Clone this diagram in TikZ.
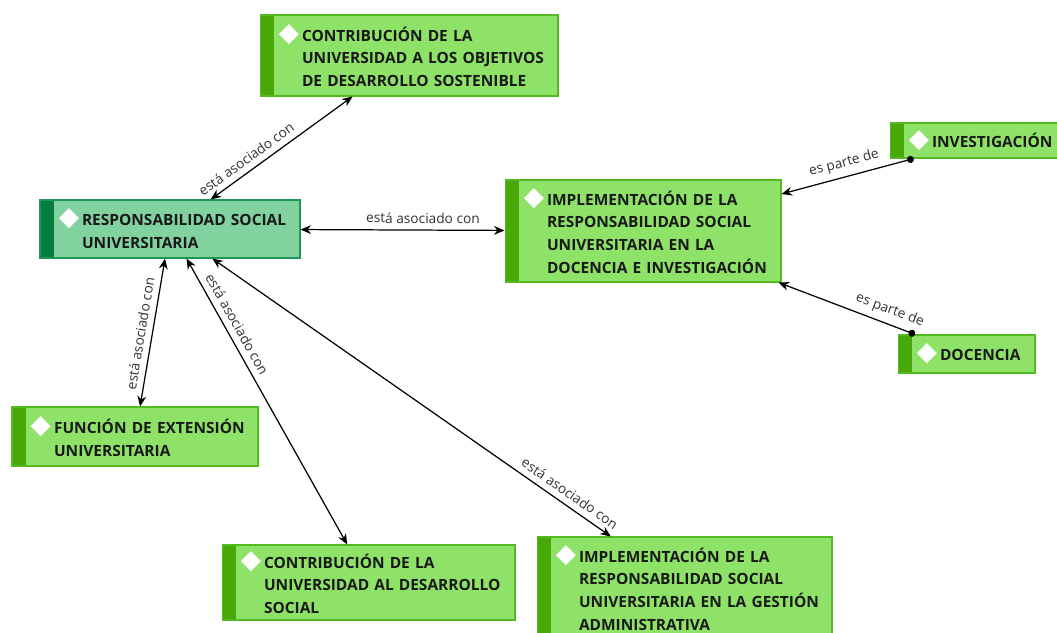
\documentclass[tikz,border=0pt]{standalone}
\usepackage{fontspec}
\setmainfont{Open Sans}
\newfontfamily\symfont{DejaVu Sans}
\usetikzlibrary{arrows.meta}
\definecolor{boxFill}{RGB}{142,226,104}
\definecolor{boxLine}{RGB}{84,186,34}
\definecolor{boxBar}{RGB}{72,168,8}
\definecolor{coreFill}{RGB}{130,210,160}
\definecolor{coreLine}{RGB}{30,150,90}
\definecolor{coreBar}{RGB}{8,125,64}
\definecolor{mainBlack}{gray}{0.1}
\definecolor{subGray}{gray}{0.2}
\newcommand{\dmd}{\llap{{\symfont\fontsize{15}{15}\selectfont\textcolor{white}{◆}}\hspace{0.06cm}}}

\begin{document}
\begin{tikzpicture}[x=0.02cm, y=-0.02cm,
    concept/.style={draw=boxLine, fill=boxFill, line width=0.6pt, text=mainBlack, align=left,
        font=\fontsize{8.8}{13}\selectfont\bfseries, inner xsep=0.04cm, inner ysep=0.1cm,
        execute at begin node={\leftskip=0.8cm\dmd},
        path picture={\fill[#1] (path picture bounding box.north west) rectangle ([xshift=0.28cm]path picture bounding box.south west);}},
    concept/.default=boxBar,
    core/.style={concept=coreBar, draw=coreLine, fill=coreFill},
    rel/.style={font=\fontsize{7.8}{9}\selectfont, text=subGray, sloped, above, inner sep=3.5pt},
    assoc/.style={draw=black, line width=0.7pt, {Stealth[length=6pt,width=5pt]}-{Stealth[length=6pt,width=5pt]}},
    part/.style={draw=black, line width=0.7pt, {Circle[length=4pt]}-{Stealth[length=6pt,width=5pt]}}]
    \useasboundingbox (0,0) rectangle (1057,632);

    \node[core, text width=5.12cm, minimum height=1.16cm] (rsu) at (170,229) {RESPONSABILIDAD SOCIAL\\UNIVERSITARIA};
    \node[concept, text width=5.88cm, minimum height=1.62cm] (ods) at (409,55.5) {CONTRIBUCIÓN DE LA\\UNIVERSIDAD A LOS OBJETIVOS\\DE DESARROLLO SOSTENIBLE};
    \node[concept, text width=5.44cm, minimum height=2.04cm] (impdi) at (643,231) {IMPLEMENTACIÓN DE LA\\RESPONSABILIDAD SOCIAL\\UNIVERSITARIA EN LA\\DOCENCIA E INVESTIGACIÓN};
    \node[concept, text width=3.56cm, minimum height=0.70cm] (inv) at (981,140.5) {INVESTIGACIÓN};
    \node[concept, text width=2.66cm, minimum height=0.76cm] (doc) at (966.5,354) {DOCENCIA};
    \node[concept, text width=4.84cm, minimum height=1.18cm] (ext) at (135,436.5) {FUNCIÓN DE EXTENSIÓN\\UNIVERSITARIA};
    \node[concept, text width=5.78cm, minimum height=1.50cm] (soc) at (368.5,582.5) {CONTRIBUCIÓN DE LA\\UNIVERSIDAD AL DESARROLLO\\SOCIAL};
    \node[concept, text width=5.82cm, minimum height=2.04cm] (gest) at (684.5,588) {IMPLEMENTACIÓN DE LA\\RESPONSABILIDAD SOCIAL\\UNIVERSITARIA EN LA GESTIÓN\\ADMINISTRATIVA};

    % relaciones
    \draw[assoc] (rsu) -- (ods) node[rel, pos=0.3] {está asociado con};
    \draw[assoc] (rsu) -- (impdi) node[rel, pos=0.6] {está asociado con};
    \draw[assoc] (rsu) -- (ext) node[rel, pos=0.52] {está asociado con};
    \draw[assoc] (rsu) -- (soc) node[rel, pos=0.25] {está asociado con};
    \draw[assoc] (rsu) -- (gest) node[rel, pos=0.88] {está asociado con};
    \draw[part] (inv) -- (impdi) node[rel, pos=0.5] {es parte de};
    \draw[part] (doc) -- (impdi) node[rel, pos=0.22] {es parte de};
\end{tikzpicture}
\end{document}
